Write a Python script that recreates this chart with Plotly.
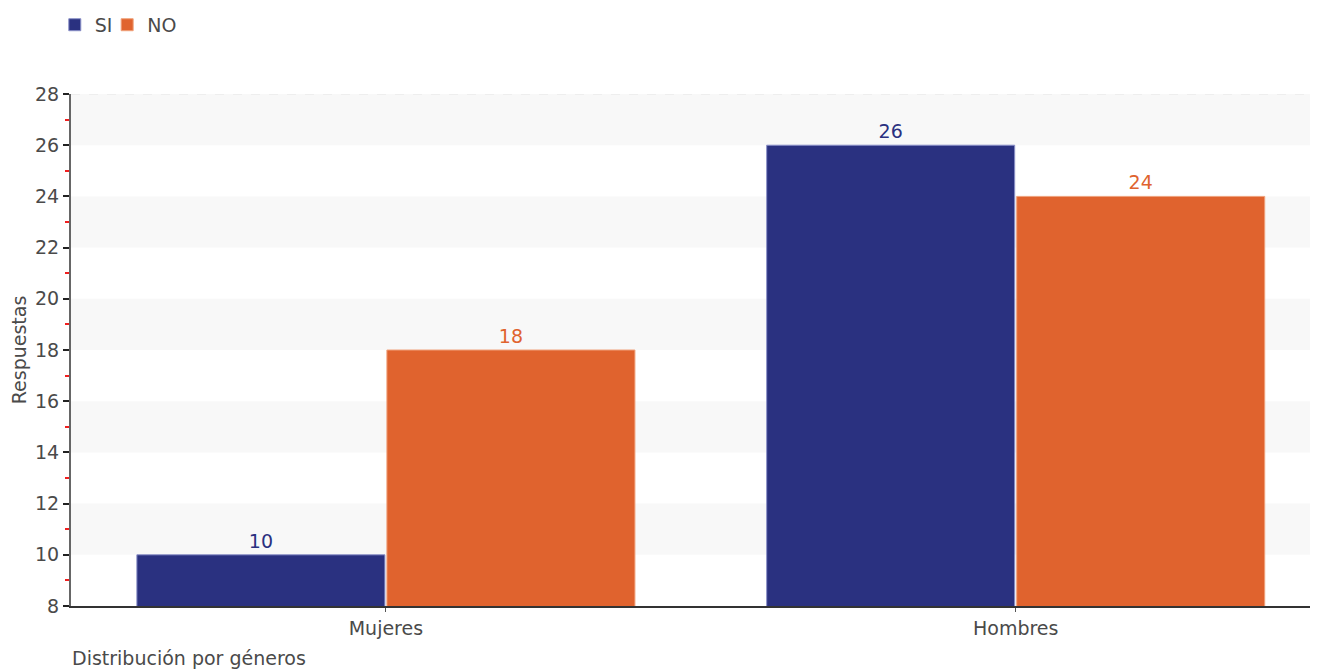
import plotly.graph_objects as go

categories = ["Mujeres", "Hombres"]
si_values = [10, 26]
no_values = [18, 24]
series_names = ["SI", "NO"]
y_ticks = [8, 10, 12, 14, 16, 18, 20, 22, 24, 26, 28]

SI_COLOR = "#2a3180"
NO_COLOR = "#e0632e"
FONT = "DejaVu Sans"
TXT = "#4a4a4a"
FS = 19

fig = go.Figure()
for name, vals, col, line, leg in [(series_names[0], si_values, SI_COLOR, "#8a90c8", "legend"),
                                   (series_names[1], no_values, NO_COLOR, "#f0a27c", "legend2")]:
    fig.add_trace(go.Bar(
        name=name, x=categories, y=vals,
        marker=dict(color=col, line=dict(color=line, width=1)),
        text=[str(v) for v in vals], textposition="outside",
        textfont=dict(color=col, size=FS, family=FONT),
        cliponaxis=False, legend=leg,
    ))

# alternating background bands
shapes = []
for i in range(1, len(y_ticks) - 1, 2):
    shapes.append(dict(type="rect", xref="paper", yref="y", x0=0, x1=1,
                       y0=y_ticks[i], y1=y_ticks[i + 1],
                       fillcolor="#f8f8f8", line=dict(width=0), layer="below"))
shapes.append(dict(type="line", xref="paper", yref="y", x0=0, x1=1,
                   y0=y_ticks[-1], y1=y_ticks[-1],
                   line=dict(color="#e4e4e4", width=1, dash="dash"), layer="below"))

legend_common = dict(orientation="h", xanchor="left", y=1.135, yanchor="middle",
                     font=dict(size=FS, color=TXT), itemwidth=30,
                     bgcolor="rgba(0,0,0,0)")

fig.update_layout(
    width=1318, height=670,
    margin=dict(l=63, r=8, t=86, b=72, autoexpand=False),
    paper_bgcolor="white", plot_bgcolor="white",
    barmode="group", bargap=0.206, bargroupgap=0.008,
    font=dict(family=FONT, size=FS, color=TXT),
    showlegend=True,
    legend=dict(x=-0.013, **legend_common),
    legend2=dict(x=0.029, **legend_common),
    shapes=shapes,
    xaxis=dict(range=[-0.5, 1.48], showgrid=False, showline=True,
               linecolor="#333333", linewidth=2,
               ticks="outside", ticklen=4, tickcolor="#555555",
               tickfont=dict(size=FS, color=TXT)),
    yaxis=dict(range=[8, 28], tickvals=y_ticks, showgrid=False, zeroline=False,
               showline=True, linecolor="#666666", linewidth=2,
               ticks="outside", ticklen=6, tickwidth=2, tickcolor="#222222",
               tickfont=dict(size=FS, color=TXT),
               minor=dict(ticks="outside", ticklen=4, tickwidth=2, tickcolor="#f02020",
                          dtick=1, showgrid=False),
               title=dict(text="Respuestas", font=dict(size=FS, color=TXT),
                          standoff=6)),
    annotations=[dict(text="Distribución por géneros", xref="paper", yref="paper",
                      x=-0.001, y=-0.1016, xanchor="left", yanchor="middle",
                      showarrow=False, font=dict(size=FS, color=TXT))],
)

fig.write_html("out.html")
